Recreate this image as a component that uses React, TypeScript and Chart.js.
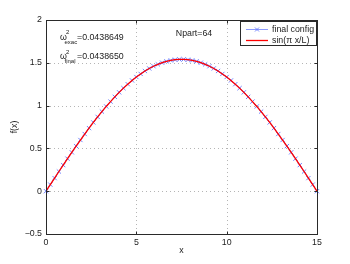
import React, { useEffect, useRef } from 'react';
import { Chart, registerables } from 'chart.js';

Chart.register(...registerables);

const FONT = '"Liberation Sans", Arial, Helvetica, sans-serif';

const xValues = [
  0, 0.238, 0.476, 0.714, 0.952, 1.19, 1.429, 1.667, 1.905, 2.143, 2.381, 2.619, 2.857, 3.095, 3.333, 3.571,
  3.81, 4.048, 4.286, 4.524, 4.762, 5.0, 5.238, 5.476, 5.714, 5.952, 6.19, 6.429, 6.667, 6.905, 7.143, 7.381,
  7.619, 7.857, 8.095, 8.333, 8.571, 8.81, 9.048, 9.286, 9.524, 9.762, 10.0, 10.238, 10.476, 10.714, 10.952, 11.19,
  11.429, 11.667, 11.905, 12.143, 12.381, 12.619, 12.857, 13.095, 13.333, 13.571, 13.81, 14.048, 14.286, 14.524, 14.762, 15,
];

const finalConfig = [
  0, 0.077, 0.153, 0.23, 0.305, 0.38, 0.454, 0.527, 0.598, 0.668, 0.737, 0.803, 0.868, 0.93, 0.99, 1.047,
  1.102, 1.155, 1.204, 1.25, 1.294, 1.334, 1.37, 1.404, 1.434, 1.46, 1.482, 1.501, 1.517, 1.528, 1.536, 1.54,
  1.54, 1.536, 1.528, 1.517, 1.501, 1.482, 1.46, 1.434, 1.404, 1.37, 1.334, 1.294, 1.25, 1.204, 1.155, 1.102,
  1.047, 0.99, 0.93, 0.868, 0.803, 0.737, 0.668, 0.598, 0.527, 0.454, 0.38, 0.305, 0.23, 0.153, 0.077, 0,
];

const sinCurve = [
  0, 0.077, 0.153, 0.23, 0.305, 0.38, 0.454, 0.527, 0.598, 0.668, 0.737, 0.803, 0.868, 0.93, 0.99, 1.047,
  1.102, 1.155, 1.204, 1.25, 1.294, 1.334, 1.37, 1.404, 1.434, 1.46, 1.482, 1.501, 1.517, 1.528, 1.536, 1.54,
  1.54, 1.536, 1.528, 1.517, 1.501, 1.482, 1.46, 1.434, 1.404, 1.37, 1.334, 1.294, 1.25, 1.204, 1.155, 1.102,
  1.047, 0.99, 0.93, 0.868, 0.803, 0.737, 0.668, 0.598, 0.527, 0.454, 0.38, 0.305, 0.23, 0.153, 0.077, 0,
];

const xTicks = [0, 5, 10, 15];
const yTicks = [-0.5, 0, 0.5, 1, 1.5, 2];
const legendLabels = ['final config', 'sin(\u03C0 x/L)'];
const titleText = 'Npart=64';
const omegaExac = '=0.0438649';
const omegaFinal = '=0.0438650';

const BLUE = '#6f82ff';
const RED = '#ff0000';
const FRAME = '#2a2a2a';
const FS = 8.8;

const overlay = {
  id: 'overlay',
  beforeDatasetsDraw(chart: any) {
    const { ctx, chartArea: a, scales } = chart;
    const xs = scales.x;
    const ys = scales.y;
    ctx.save();
    ctx.strokeStyle = '#b5b5b5';
    ctx.lineWidth = 1;
    ctx.setLineDash([1, 3]);
    xTicks.forEach((v) => {
      if (v === xs.min || v === xs.max) return;
      const px = Math.round(xs.getPixelForValue(v)) + 0.5;
      ctx.beginPath();
      ctx.moveTo(px, a.top);
      ctx.lineTo(px, a.bottom);
      ctx.stroke();
    });
    yTicks.forEach((v) => {
      if (v === ys.min || v === ys.max) return;
      const py = Math.round(ys.getPixelForValue(v)) + 0.5;
      ctx.beginPath();
      ctx.moveTo(a.left, py);
      ctx.lineTo(a.right, py);
      ctx.stroke();
    });
    ctx.restore();
  },
  afterDraw(chart: any) {
    const { ctx, chartArea: a, scales } = chart;
    const xs = scales.x;
    const ys = scales.y;
    ctx.save();
    const L = Math.round(a.left) + 0.5;
    const R = Math.round(a.right) + 0.5;
    const T = Math.round(a.top) + 0.5;
    const B = Math.round(a.bottom) + 0.5;
    ctx.setLineDash([]);
    ctx.strokeStyle = FRAME;
    ctx.lineWidth = 1;
    ctx.strokeRect(L, T, R - L, B - T);
    const tl = 3;
    xTicks.forEach((v) => {
      const px = Math.round(xs.getPixelForValue(v)) + 0.5;
      ctx.beginPath();
      ctx.moveTo(px, B);
      ctx.lineTo(px, B - tl);
      ctx.moveTo(px, T);
      ctx.lineTo(px, T + tl);
      ctx.stroke();
    });
    yTicks.forEach((v) => {
      const py = Math.round(ys.getPixelForValue(v)) + 0.5;
      ctx.beginPath();
      ctx.moveTo(L, py);
      ctx.lineTo(L + tl, py);
      ctx.moveTo(R, py);
      ctx.lineTo(R - tl, py);
      ctx.stroke();
    });

    ctx.fillStyle = '#222';
    ctx.font = `${FS}px ${FONT}`;
    ctx.textAlign = 'center';
    ctx.textBaseline = 'middle';
    ctx.fillText('x', (a.left + a.right) / 2, 251);
    ctx.save();
    ctx.translate(15, (a.top + a.bottom) / 2);
    ctx.rotate(-Math.PI / 2);
    ctx.fillText('f(x)', 0, 0);
    ctx.restore();

    ctx.fillText(titleText, 194, 34);

    const drawOmega = (cy: number, sub: string, val: string) => {
      ctx.textAlign = 'left';
      ctx.font = `${FS}px ${FONT}`;
      ctx.fillText('\u03C9', 60, cy);
      ctx.font = `6px ${FONT}`;
      ctx.fillText('2', 66, cy - 5);
      ctx.fillText(sub, 64.5, cy + 4.5);
      ctx.font = `${FS}px ${FONT}`;
      ctx.fillText(val, 77, cy);
    };
    drawOmega(37.5, 'exac', omegaExac);
    drawOmega(57, 'final', omegaFinal);

    const lx = 240.5, ly = 21.5, lw = 76, lh = 24;
    ctx.fillStyle = '#ffffff';
    ctx.fillRect(lx, ly, lw, lh);
    ctx.strokeStyle = FRAME;
    ctx.lineWidth = 1;
    ctx.strokeRect(lx, ly, lw, lh);
    const rows = [29.5, 40.5];
    ctx.strokeStyle = BLUE;
    ctx.lineWidth = 0.8;
    ctx.beginPath();
    ctx.moveTo(246, rows[0]);
    ctx.lineTo(268, rows[0]);
    ctx.stroke();
    const mx = 257, my = rows[0], m = 2;
    ctx.lineWidth = 1;
    ctx.beginPath();
    ctx.moveTo(mx - m, my - m);
    ctx.lineTo(mx + m, my + m);
    ctx.moveTo(mx - m, my + m);
    ctx.lineTo(mx + m, my - m);
    ctx.stroke();
    ctx.strokeStyle = RED;
    ctx.lineWidth = 1.3;
    ctx.beginPath();
    ctx.moveTo(246, rows[1]);
    ctx.lineTo(268, rows[1]);
    ctx.stroke();
    ctx.fillStyle = '#222';
    ctx.font = `${FS}px ${FONT}`;
    ctx.textAlign = 'left';
    ctx.textBaseline = 'middle';
    ctx.fillText(legendLabels[0], 272, rows[0]);
    ctx.fillText(legendLabels[1], 272, rows[1]);
    ctx.restore();
  },
};

export default function App() {
  const ref = useRef<HTMLCanvasElement | null>(null);
  useEffect(() => {
    document.body.style.margin = '0';
    const canvas = ref.current;
    if (!canvas) return;
    const chart = new Chart(canvas, {
      type: 'line',
      data: {
        datasets: [
          {
            label: legendLabels[0],
            data: xValues.map((x, i) => ({ x, y: finalConfig[i] })),
            borderColor: BLUE,
            backgroundColor: BLUE,
            borderWidth: 0.8,
            pointStyle: 'crossRot',
            pointRadius: 3,
            pointBorderWidth: 1,
            pointBorderColor: BLUE,
            tension: 0,
            clip: false as any,
            order: 1,
          },
          {
            label: legendLabels[1],
            data: xValues.map((x, i) => ({ x, y: sinCurve[i] })),
            borderColor: RED,
            backgroundColor: RED,
            borderWidth: 1.3,
            pointRadius: 0,
            tension: 0,
            order: 0,
          },
        ],
      },
      options: {
        responsive: false,
        animation: false,
        devicePixelRatio: 1,
        layout: { padding: { top: 20, right: 33, left: 0, bottom: 0 } },
        plugins: { legend: { display: false }, tooltip: { enabled: false } },
        scales: {
          x: {
            type: 'linear',
            min: 0,
            max: 15,
            afterBuildTicks: (s: any) => {
              s.ticks = xTicks.map((v) => ({ value: v }));
            },
            afterFit: (s: any) => {
              s.height = 30;
            },
            ticks: {
              font: { family: FONT, size: FS },
              color: '#222',
              padding: 3,
              maxRotation: 0,
            },
            grid: { display: false, drawTicks: false },
            border: { display: false },
          },
          y: {
            type: 'linear',
            min: -0.5,
            max: 2,
            afterBuildTicks: (s: any) => {
              s.ticks = yTicks.map((v) => ({ value: v }));
            },
            afterFit: (s: any) => {
              s.width = 46;
            },
            ticks: {
              font: { family: FONT, size: FS },
              color: '#222',
              padding: 4,
              callback: (v: any) => (Number(v) < 0 ? '\u2212' + String(Math.abs(Number(v))) : String(v)),
            },
            grid: { display: false, drawTicks: false },
            border: { display: false },
          },
        },
      },
      plugins: [overlay],
    });
    return () => chart.destroy();
  }, []);
  return (
    <div style={{ width: 350, height: 264 }}>
      <canvas ref={ref} width={350} height={264} style={{ display: 'block' }} />
    </div>
  );
}
